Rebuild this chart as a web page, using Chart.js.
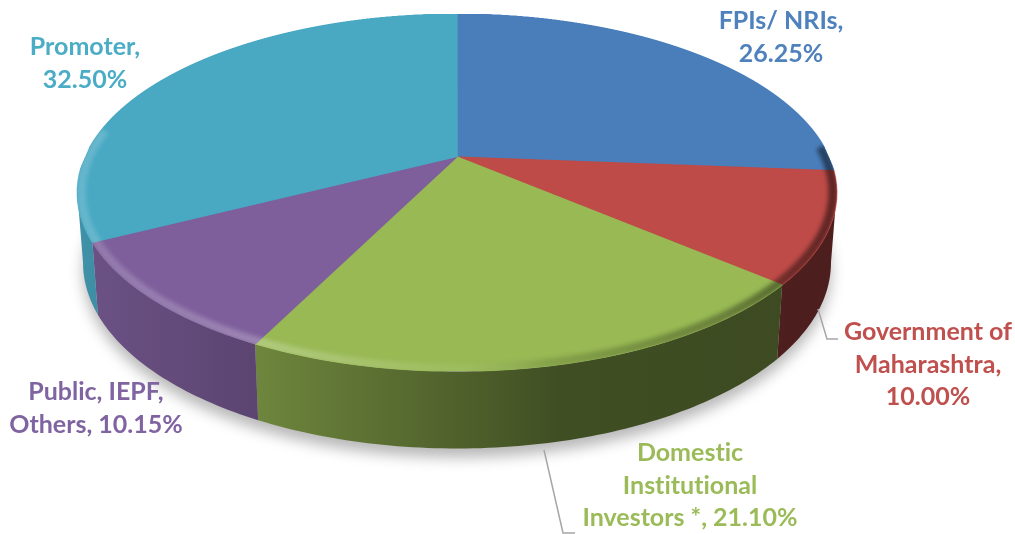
<!DOCTYPE html>
<html>
<head>
<meta charset="utf-8">
<title>Shareholding pattern</title>
<script src="https://cdn.jsdelivr.net/npm/chart.js@4"></script>
<style>
  html, body { margin: 0; padding: 0; background: #fff; }
  canvas { display: block; }
</style>
</head>
<body>
<canvas id="pie" width="1015" height="534"></canvas>
<script>
const categories = ['FPIs/ NRIs', 'Government of Maharashtra', 'Domestic Institutional Investors *', 'Public, IEPF, Others', 'Promoter'];
const shares = [26.25, 10.00, 21.10, 10.15, 32.50];
const faceColors = ['#4a7ebb', '#be4b48', '#98b954', '#7e5f9c', '#49a9c3'];
const textColors = ['#4f81bd', '#c0504d', '#9bbb59', '#8064a2', '#4bacc6'];
const labelLines = [
  ['FPIs/ NRIs,', '26.25%'],
  ['Government of', 'Maharashtra,', '10.00%'],
  ['Domestic', 'Institutional', 'Investors *, 21.10%'],
  ['Public, IEPF,', 'Others, 10.15%'],
  ['Promoter,', '32.50%']
];
const labelSpots = [[781, 29], [928, 340], [690, 461], [96, 400], [85, 55]];

// perspective of the tilted disc
const cx = 457, cy = 157, halfW = 372, tiltB = 171.6, persp = 0.2;

function project(angle) {
  const u = Math.cos(angle), v = Math.sin(angle), d = 1 - persp * v;
  return { x: cx + halfW * u / d, y: cy + tiltB * v / d, v };
}

function projectBase(angle) {
  const p = project(angle);
  return { x: cx + (p.x - cx) * 0.985, y: p.y + 68 + 9 * p.v };
}

function shade(hex, f) {
  const n = parseInt(hex.slice(1), 16);
  return `rgb(${Math.round((n >> 16) * f)},${Math.round(((n >> 8) & 255) * f)},${Math.round((n & 255) * f)})`;
}

function tracePath(ctx, from, to, fn, moveFirst) {
  const steps = Math.max(2, Math.ceil(Math.abs(to - from) * 60));
  for (let i = 0; i <= steps; i++) {
    const p = fn(from + (to - from) * i / steps);
    if (i === 0 && moveFirst) ctx.moveTo(p.x, p.y); else ctx.lineTo(p.x, p.y);
  }
}

function drawShadow(ctx) {
  ctx.save();
  ctx.filter = 'blur(7px)';
  ctx.fillStyle = 'rgba(0,0,0,0.28)';
  ctx.beginPath();
  tracePath(ctx, -0.1, Math.PI + 0.1, a => {
    const p = projectBase(a);
    return { x: p.x, y: p.y + 9 };
  }, true);
  ctx.closePath();
  ctx.fill();
  ctx.restore();
}

function drawWalls(ctx, arcs) {
  // the disc is widest a little below its middle, the wall starts there
  const widest = Math.asin(persp);
  arcs.forEach((arc, i) => {
    const from = Math.max(arc.startAngle, widest), to = Math.min(arc.endAngle, Math.PI - widest);
    if (to <= from) return;
    // walls get darker from left to right
    const grad = ctx.createLinearGradient(80, 0, 833, 0);
    grad.addColorStop(0, shade(faceColors[i], 0.86));
    grad.addColorStop(0.24, shade(faceColors[i], 0.72));
    grad.addColorStop(0.64, shade(faceColors[i], 0.42));
    grad.addColorStop(1, shade(faceColors[i], 0.4));
    ctx.fillStyle = grad;
    ctx.beginPath();
    tracePath(ctx, from, to, project, true);
    tracePath(ctx, to, from, projectBase, false);
    ctx.closePath();
    ctx.fill();
  });
}

// row by row warp of the flat pie into perspective
function drawFace(ctx, arcs) {
  const R = 800;
  const flat = document.createElement('canvas');
  flat.width = flat.height = R * 2;
  const fctx = flat.getContext('2d');
  const first = arcs[0];
  fctx.translate(R, R);
  fctx.scale(R / first.outerRadius, R / first.outerRadius);
  fctx.translate(-first.x, -first.y);
  arcs.forEach(arc => arc.draw(fctx));

  const warped = document.createElement('canvas');
  warped.width = 2030;
  warped.height = 1068;
  const wctx = warped.getContext('2d');
  const top = cy - tiltB / (1 + persp), bottom = cy + tiltB / (1 - persp);
  for (let row = Math.floor(top * 2); row < bottom * 2; row++) {
    const Y = (row + 0.5) / 2 - cy;
    const v = Y / (tiltB + persp * Y);
    const nextV = (Y + 0.5) / (tiltB + persp * (Y + 0.5));
    const d = 1 - persp * v;
    const w = halfW / d;
    wctx.drawImage(flat, 0, R + v * R, R * 2, Math.max(1, (nextV - v) * R),
      (cx - w) * 2, row, w * 4, 1);
  }
  ctx.drawImage(warped, 0, 0, 1015, 534);
}

function drawBevel(ctx) {
  ctx.save();
  ctx.beginPath();
  tracePath(ctx, 0, Math.PI * 2, project, true);
  ctx.closePath();
  ctx.clip();
  const grad = ctx.createLinearGradient(77, 0, 835, 0);
  grad.addColorStop(0, 'rgba(255,255,255,0.16)');
  grad.addColorStop(0.25, 'rgba(255,255,255,0.24)');
  grad.addColorStop(0.5, 'rgba(255,255,255,0.06)');
  grad.addColorStop(0.62, 'rgba(0,0,0,0.12)');
  grad.addColorStop(0.85, 'rgba(0,0,0,0.3)');
  grad.addColorStop(1, 'rgba(0,0,0,0.5)');
  ctx.strokeStyle = grad;
  ctx.lineWidth = 9;
  ctx.filter = 'blur(2px)';
  ctx.beginPath();
  tracePath(ctx, -0.06, Math.PI + 0.16, a => {
    const p = project(a);
    return { x: cx + (p.x - cx) * 0.99, y: cy + (p.y - cy) * 0.985 };
  }, true);
  ctx.stroke();
  ctx.restore();
}

function drawLeaders(ctx) {
  ctx.strokeStyle = '#a6a6a6';
  ctx.lineWidth = 1.5;
  ctx.beginPath();
  ctx.moveTo(818, 309); ctx.lineTo(827, 339); ctx.lineTo(838, 339);
  ctx.moveTo(544, 450); ctx.lineTo(563, 533); ctx.lineTo(575, 533);
  ctx.stroke();
}

function drawLabels(ctx) {
  ctx.font = 'bold 25px Lato';
  ctx.textRendering = 'optimizeSpeed';
  ctx.textAlign = 'center';
  ctx.textBaseline = 'alphabetic';
  labelLines.forEach((lines, i) => {
    ctx.fillStyle = textColors[i];
    lines.forEach((line, j) => {
      ctx.fillText(line, labelSpots[i][0], labelSpots[i][1] + j * 32.5);
    });
  });
}

const tiltedPie = {
  id: 'tiltedPie',
  beforeDatasetsDraw(chart) {
    const ctx = chart.ctx;
    const arcs = chart.getDatasetMeta(0).data;
    drawShadow(ctx);
    drawWalls(ctx, arcs);
    drawFace(ctx, arcs);
    drawBevel(ctx);
    drawLeaders(ctx);
    drawLabels(ctx);
    return false;
  }
};

new Chart(document.getElementById('pie'), {
  type: 'pie',
  data: {
    labels: categories,
    datasets: [{
      data: shares,
      backgroundColor: faceColors,
      borderColor: faceColors,
      borderWidth: 1
    }]
  },
  options: {
    responsive: false,
    animation: false,
    plugins: { legend: { display: false }, tooltip: { enabled: false } }
  },
  plugins: [tiltedPie]
});
</script>
</body>
</html>
